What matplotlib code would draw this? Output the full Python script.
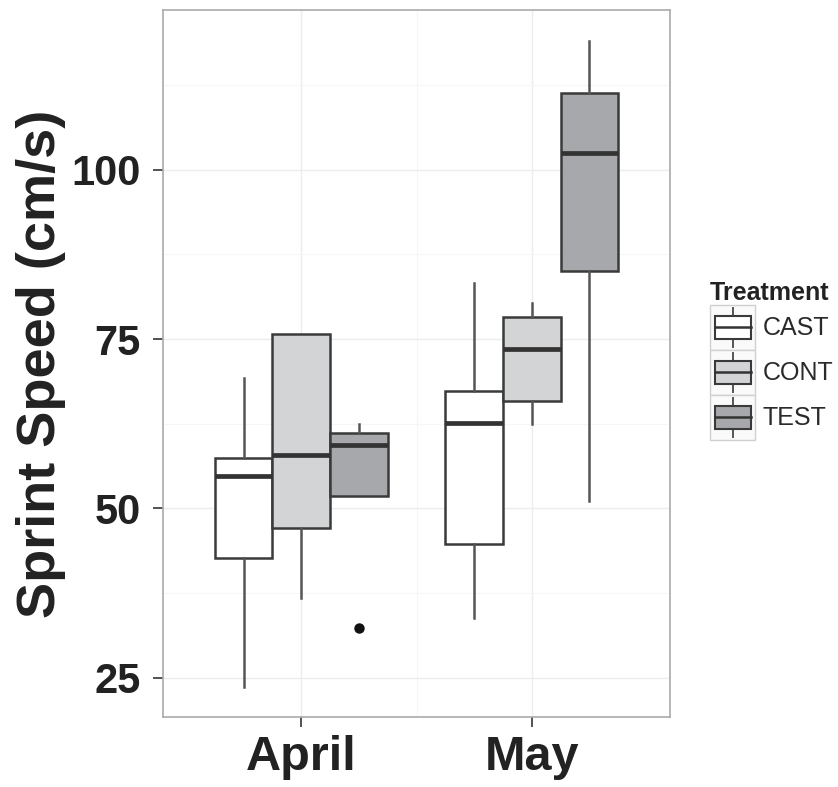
import matplotlib
matplotlib.use("Agg")
import matplotlib.pyplot as plt
from matplotlib.patches import Patch, Rectangle
from matplotlib.legend_handler import HandlerBase
from matplotlib.lines import Line2D

plt.rcParams['font.family'] = ['Liberation Sans', 'DejaVu Sans']

# data
months = ['April', 'May']
treatments = ['CAST', 'CONT', 'TEST']
fills = ['#ffffff', '#d3d4d6', '#a7a8ab']

# per treatment, per month: (whislo, q1, median, q3, whishi)
cast = [(23.7, 42.7, 54.8, 57.4, 69.2), (33.8, 44.7, 62.6, 67.3, 83.3)]
cont = [(36.8, 47.1, 57.9, 75.8, 75.8), (62.5, 65.9, 73.5, 78.2, 80.4)]
test = [(51.8, 51.8, 59.4, 61.2, 62.4), (51.1, 85.0, 102.5, 111.4, 119.0)]
outliers = {('TEST', 'April'): [32.3]}

series = [cast, cont, test]

fig = plt.figure(figsize=(8.38, 7.87), dpi=100)
ax = fig.add_axes([163 / 838, 1 - 717 / 787, (670 - 163) / 838, (717 - 10) / 787])

edge = '#3a3a3a'
offsets = [-0.25, 0.0, 0.25]
for t, (name, vals, fc) in enumerate(zip(treatments, series, fills)):
    stats = []
    pos = []
    for m, month in enumerate(months):
        lo, q1, med, q3, hi = vals[m]
        stats.append(dict(whislo=lo, q1=q1, med=med, q3=q3, whishi=hi,
                          fliers=outliers.get((name, month), [])))
        pos.append(m + 1 + offsets[t])
    ax.bxp(stats, positions=pos, widths=0.25, patch_artist=True, showcaps=False,
           boxprops=dict(facecolor=fc, edgecolor=edge, linewidth=1.8),
           whiskerprops=dict(color='#555555', linewidth=1.8),
           medianprops=dict(color='#333333', linewidth=3.4),
           flierprops=dict(marker='o', markerfacecolor='#111111', markeredgecolor='#111111',
                           markersize=6.5),
           manage_ticks=False, zorder=3)

ax.set_xlim(0.4, 2.6)
ax.set_ylim(19.2, 123.6)
ax.set_xticks([1, 2])
ax.set_xticklabels(months)
ax.set_yticks([25, 50, 75, 100])
ax.set_yticks([37.5, 62.5, 87.5, 112.5], minor=True)
ax.set_xticks([1.5], minor=True)
ax.grid(True, which='major', color='#ececec', linewidth=1.0, zorder=0)
ax.grid(True, which='minor', color='#f6f6f6', linewidth=0.8, zorder=0)
ax.set_axisbelow(True)
for s in ax.spines.values():
    s.set_color('#aaaaaa')
    s.set_linewidth(1.2)
ax.tick_params(which='major', length=7, width=1.3, color='#444444')
ax.tick_params(which='minor', length=0)
ax.tick_params(axis='y', labelsize=30, labelcolor='#222222', pad=9)
ax.tick_params(axis='x', labelsize=35, labelcolor='#222222', pad=6)
for lab in ax.get_xticklabels() + ax.get_yticklabels():
    lab.set_fontweight('bold')
ax.set_ylabel('Sprint Speed (cm/s)', fontsize=39, fontweight='bold', color='#222222', labelpad=4)


class BoxHandler(HandlerBase):
    def create_artists(self, legend, orig, xd, yd, w, h, fontsize, trans):
        fc = orig.get_facecolor()
        x0, y0 = -xd, -yd
        cx = x0 + w / 2
        bw = w * 0.8
        frame = Rectangle((x0, y0), w, h, facecolor='#fafafa', edgecolor='#d0d0d0',
                          linewidth=1.0, transform=trans)
        r = Rectangle((cx - bw / 2, y0 + h * 0.24), bw, h * 0.52, facecolor=fc,
                      edgecolor=edge, linewidth=1.5, transform=trans)
        ln1 = Line2D([cx, cx], [y0 + h * 0.06, y0 + h * 0.24], color='#555555', lw=1.4, transform=trans)
        ln2 = Line2D([cx, cx], [y0 + h * 0.76, y0 + h * 0.94], color='#555555', lw=1.4, transform=trans)
        md = Line2D([cx - bw / 2, cx + bw / 2], [y0 + h * 0.5, y0 + h * 0.5], color='#333333', lw=1.8,
                    transform=trans)
        return [frame, ln1, ln2, r, md]


handles = [Patch(facecolor=fc, label=n) for n, fc in zip(treatments, fills)]
leg = fig.legend(handles=handles, labels=treatments, loc='upper left',
                 bbox_to_anchor=(710 / 838, 1 - 281 / 787), frameon=False,
                 title='Treatment', fontsize=18, title_fontproperties={'weight': 'bold', 'size': 18},
                 handler_map={Patch: BoxHandler()}, handlelength=1.8, handleheight=2.39,
                 labelspacing=0.0, handletextpad=0.3, borderpad=0.0, borderaxespad=0.0)
leg._legend_box.align = 'left'
for txt in leg.get_texts():
    txt.set_color('#2a2a2a')
leg.get_title().set_color('#222222')

fig.savefig('out.png', dpi=100)
